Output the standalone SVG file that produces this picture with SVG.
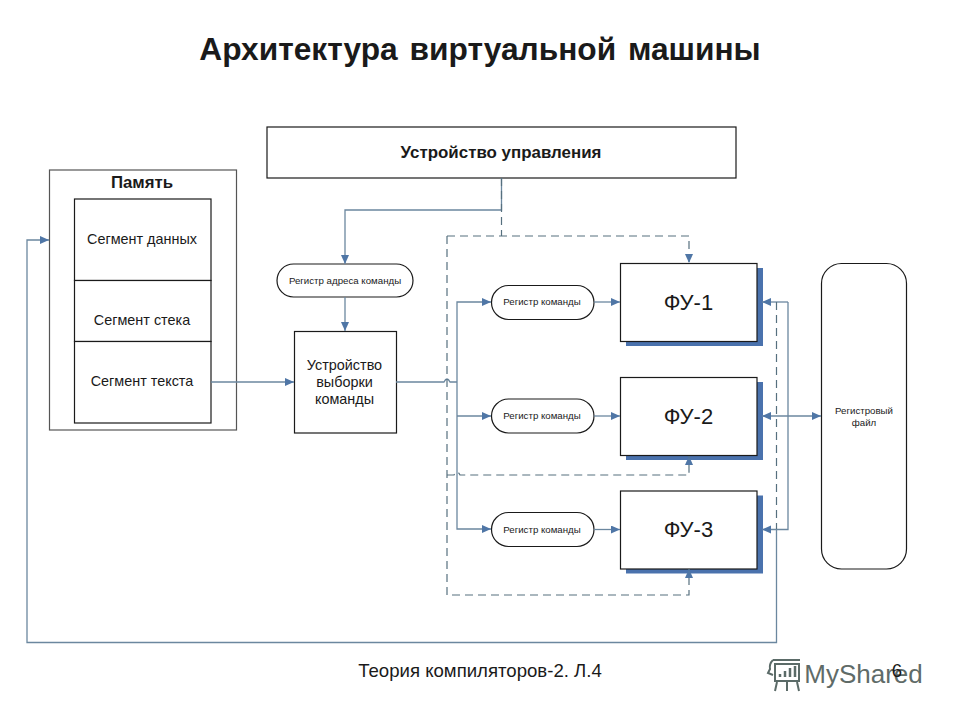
<svg xmlns="http://www.w3.org/2000/svg" width="960" height="720" viewBox="0 0 960 720">
<style>
text{font-family:"Liberation Sans",Arial,sans-serif;fill:#1a1a1a;text-anchor:middle}
.b{fill:#fff;stroke:#1a1a1a;stroke-width:1.2}
.sh{fill:#4a72ad;stroke:none}
.c{fill:none;stroke:#6b879f;stroke-width:1.3}
.d{fill:none;stroke:#56707f;stroke-width:1.2;stroke-dasharray:8 5}
.s{font-size:14.4px}
.r{font-size:9.7px}
.f{font-size:22px}
</style>
<defs>
<marker id="a" markerUnits="userSpaceOnUse" markerWidth="10" markerHeight="9" refX="9" refY="4" orient="auto"><path d="M0 0L9 4L0 8z" fill="#4f76a6"/></marker>
<marker id="as" markerUnits="userSpaceOnUse" markerWidth="10" markerHeight="9" refX="0" refY="4" orient="auto"><path d="M9 0L0 4L9 8z" fill="#4f76a6"/></marker>
</defs>
<rect width="960" height="720" fill="#fff"/>
<text id="title" x="480" y="60" font-size="31.700" font-weight="bold" word-spacing="3">Архитектура виртуальной машины</text>
<g id="control"><rect class="b" x="267" y="127" width="469" height="51"/><text x="501" y="157.500" font-size="16.900" font-weight="bold">Устройство управления</text></g>
<g id="memory"><rect class="b" x="49.500" y="170" width="187" height="260" style="stroke:#555"/><text x="142" y="188" font-size="16.800" font-weight="bold">Память</text></g>
<g id="seg-data"><rect class="b" x="74.500" y="199" width="136.500" height="81.500"/><text class="s" x="142" y="243.500">Сегмент данных</text></g>
<g id="seg-stack"><rect class="b" x="74.500" y="280.500" width="136.500" height="61"/><text class="s" x="142" y="325">Сегмент стека</text></g>
<g id="seg-text"><rect class="b" x="74.500" y="341.500" width="136.500" height="81.500"/><text class="s" x="142" y="386">Сегмент текста</text></g>
<g id="addr-reg"><rect class="b" x="277" y="264" width="136" height="33" rx="16.500"/><text class="r" x="345" y="283.500">Регистр адреса команды</text></g>
<g id="fetch"><rect class="b" x="294.500" y="331.500" width="102" height="101.500"/><text class="s" x="344.500" y="369.500">Устройство</text><text class="s" x="344.500" y="387">выборки</text><text class="s" x="344.500" y="404">команды</text></g>
<g id="reg1"><rect class="b" x="491.500" y="285.500" width="102.500" height="34" rx="17"/><text class="r" x="542" y="305">Регистр команды</text></g>
<g id="reg2"><rect class="b" x="491.500" y="399" width="102.500" height="34" rx="17"/><text class="r" x="542" y="419">Регистр команды</text></g>
<g id="reg3"><rect class="b" x="491.500" y="512.500" width="102.500" height="34" rx="17"/><text class="r" x="542" y="532.500">Регистр команды</text></g>
<g id="fu1"><rect class="sh" x="626" y="268" width="137" height="78"/><rect class="b" x="620.500" y="263.500" width="136.500" height="78"/><text class="f" x="688.500" y="310">ФУ-1</text></g>
<g id="fu2"><rect class="sh" x="626" y="382" width="137" height="78"/><rect class="b" x="620.500" y="377.500" width="136.500" height="78"/><text class="f" x="688.500" y="423.500">ФУ-2</text></g>
<g id="fu3"><rect class="sh" x="626" y="495.500" width="137" height="78"/><rect class="b" x="620.500" y="491" width="136.500" height="78"/><text class="f" x="688.500" y="537">ФУ-3</text></g>
<g id="regfile"><rect class="b" x="821.500" y="263.500" width="85" height="305.500" rx="20"/><text class="r" x="864" y="413.500">Регистровый</text><text class="r" x="864" y="425.500">файл</text></g>
<g id="connectors">
<path class="c" d="M501.500 178V210H345V264" marker-end="url(#a)"/>
<path class="c" d="M345 297V331" marker-end="url(#a)"/>
<path class="c" d="M211 382H294" marker-end="url(#a)"/>
<path class="c" d="M396 382H444q3-6 6 0H457"/>
<path class="c" d="M457 382V302H491" marker-end="url(#a)"/>
<path class="c" d="M457 382V529H491" marker-end="url(#a)"/>
<path class="c" d="M457 416H491" marker-end="url(#a)"/>
<path class="c" d="M594 302H620" marker-end="url(#a)"/>
<path class="c" d="M594 416H620" marker-end="url(#a)"/>
<path class="c" d="M594 529.500H620" marker-end="url(#a)"/>
<path class="d" d="M501.500 178V236"/>
<path class="d" d="M447 236H689V263" marker-end="url(#a)"/>
<path class="d" d="M447 236V595H689V569" marker-end="url(#a)"/>
<path class="d" d="M447 475H454q3-6 6 0H689V456" marker-end="url(#a)"/>
<path class="c" d="M788 302H762" marker-end="url(#a)"/>
<path class="c" d="M788 302V529.500H762" marker-end="url(#a)"/>
<path class="c" d="M762 416H821" marker-start="url(#as)" marker-end="url(#a)"/>
<path class="d" d="M776.500 302V529"/>
<path class="c" d="M776.500 529V642.500H27V240H49" marker-end="url(#a)"/>
</g>
<text id="footer" x="480" y="677" font-size="18.600">Теория компиляторов-2. Л.4</text>
<g id="watermark" fill="none" stroke="#5b6b68" stroke-width="2">
<path d="M773 660H800M773 660q-4 4-3 9l-2 4 5 2M775 664H799V681H775ZM777 682l-2 9M787 682V691M797 682l2 9"/>
<path d="M780 677V674M785 677V671M790 677V668M795 677V666" stroke-width="2.500"/>
<text x="863.500" y="683" font-size="26" style="fill:#5f6b68;stroke:none">MyShared</text>
</g>
<text id="page" x="897" y="677" font-size="18.600">6</text>
</svg>
